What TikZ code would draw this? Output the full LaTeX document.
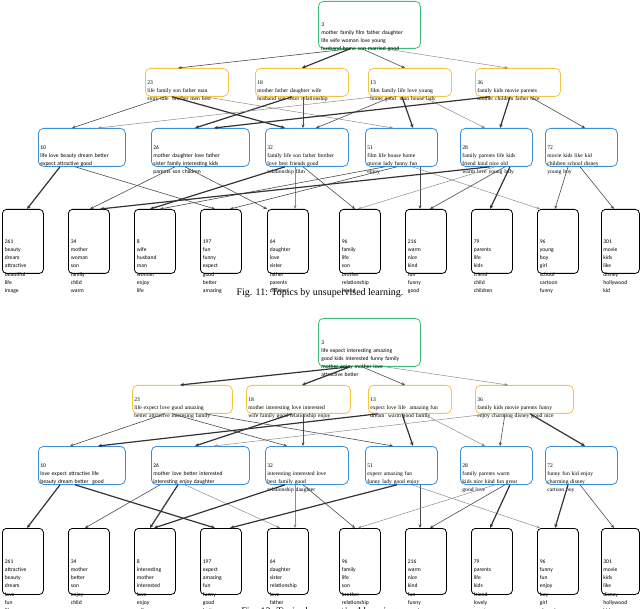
\documentclass[tikz,border=0pt]{standalone}
\usepackage{fontspec}
\setmainfont{Liberation Serif}
\newfontfamily\calfnt{Carlito}
\usetikzlibrary{calc,arrows.meta}
\definecolor{rootc}{HTML}{3DBE7A}
\definecolor{midc}{HTML}{F4C542}
\definecolor{lowc}{HTML}{3A8FD8}
\tikzset{
 bx/.style={draw,rounded corners=5pt,line width=0.8pt,anchor=north west,align=left,inner sep=2pt,text depth=0pt},
 rt/.style={bx,draw=rootc,font=\calfnt\fontsize{5.6}{8}\selectfont},
 md/.style={bx,draw=midc,font=\fontsize{5.6}{8}\selectfont},
 lw/.style={bx,draw=lowc,font=\calfnt\fontsize{5.6}{8}\selectfont},
 lws/.style={bx,draw=lowc,font=\fontsize{5.6}{8}\selectfont},
 lf/.style={bx,draw=black,rounded corners=4pt,font=\calfnt\fontsize{5.6}{8.2}\selectfont,minimum width=41pt,text width=36pt},
 lt/.style={-{Stealth[length=3.5pt,width=3pt]},draw=black!45,line width=0.5pt},
 me/.style={-{Stealth[length=3.5pt,width=3pt]},draw=black!70,line width=0.6pt},
 tk/.style={-{Stealth[length=4pt,width=3.5pt]},draw=black!80,line width=1.2pt},
 captxt/.style={font=\fontsize{10}{12}\selectfont}
}
\newcommand\E[5]{\draw[#1] ($(#2.south west)+(#3,0)$) -- ($(#4.north west)+(#5,0)$);}
\begin{document}
\begin{tikzpicture}[x=1pt,y=-1pt]
\useasboundingbox (0,0) rectangle (640,609);
% ---------- Figure 11 ----------
\node[rt,minimum width=102pt,minimum height=47pt,text width=96pt] (aR) at (318,1) {3\\mother family film father daughter\\life wife woman love young\\husband home son married good};
\node[md,minimum width=83pt,minimum height=28pt,text width=79pt] (a23) at (145,68) {23\\life family son father man\\story tale\ \ brother men best};
\node[md,minimum width=93pt,minimum height=28pt,text width=89pt] (a18) at (255,68) {18\\mother father daughter wife\\husband son sister relationship};
\node[md,minimum width=83pt,minimum height=28pt,text width=79pt] (a13) at (368,68) {13\\film family life love young\\home good\ \ man house lady};
\node[md,minimum width=85pt,minimum height=28pt,text width=81pt] (a36) at (475,68) {36\\family kids movie parents\\mother children father nice};
\node[lw,minimum width=87pt,minimum height=38pt,text width=83pt] (a10) at (38,128) {10\\life love beauty dream better\\expect attractive good};
\node[lw,minimum width=98pt,minimum height=38pt,text width=94pt] (a26) at (151,128) {26\\mother daughter love father\\sister family interesting kids\\parents son children};
\node[lws,minimum width=81pt,minimum height=38pt,text width=79pt] (a32) at (265,128) {32\\family life son father brother\\love best friends good\\relationship film};
\node[lws,minimum width=72pt,minimum height=38pt,text width=68pt] (a51) at (365,128) {51\\film life house home\\movie lady funny fun\\enjoy};
\node[lws,minimum width=72pt,minimum height=38pt,text width=68pt] (a28) at (460,128) {28\\family parents life kids\\friend kind nice old\\warm love young lady};
\node[lws,minimum width=72pt,minimum height=38pt,text width=68pt] (a72) at (545,128) {72\\movie kids like kid\\children school disney\\young boy};
\node[lf,minimum height=64pt] (b261) at (2,209) {261\\beauty\\dream\\attractive\\beautiful\\life\\image};
\node[lf,minimum height=64pt] (b34) at (68,209) {34\\mother\\woman\\son\\family\\child\\warm};
\node[lf,minimum height=64pt] (b8) at (134,209) {8\\wife\\husband\\man\\woman\\enjoy\\life};
\node[lf,minimum height=64pt] (b197) at (200,209) {197\\fun\\funny\\expect\\good\\better\\amazing};
\node[lf,minimum height=64pt] (b64) at (267,209) {64\\daughter\\love\\sister\\father\\parents\\children};
\node[lf,minimum height=64pt] (b96) at (339,209) {96\\family\\life\\son\\brother\\relationship\\friend};
\node[lf,minimum height=64pt] (b216) at (405,209) {216\\warm\\nice\\kind\\fun\\funny\\good};
\node[lf,minimum height=64pt] (b79) at (471,209) {79\\parents\\life\\kids\\friend\\child\\children};
\node[lf,minimum height=64pt] (b96b) at (537,209) {96\\young\\boy\\girl\\school\\cartoon\\funny};
\node[lf,minimum height=64pt,minimum width=38pt,text width=34pt] (b301) at (601,209) {301\\movie\\kids\\like\\disney\\hollywood\\kid};
\node[captxt] (c1) at (320,293) {Fig. 11: Topics by unsupervised learning.};
\E{me}{aR}{32}{a23}{33}
\E{tk}{aR}{32}{a18}{47}
\E{me}{aR}{44}{a13}{37}
\E{lt}{aR}{67}{a36}{33}
\E{me}{a23}{20}{a10}{34}
\E{tk}{a23}{27}{a32}{20}
\E{lt}{a23}{60}{a51}{28}
\E{tk}{a18}{37}{a26}{44}
\E{me}{a18}{48}{a32}{38}
\E{lt}{a13}{7}{a10}{60}
\E{me}{a13}{24}{a32}{51}
\E{tk}{a13}{34}{a51}{48}
\E{lt}{a13}{55}{a28}{25}
\E{tk}{a36}{15}{a26}{63}
\E{tk}{a36}{35}{a28}{40}
\E{me}{a36}{55}{a72}{40}
\E{tk}{a10}{22}{b261}{25}
\E{me}{a10}{37}{b197}{15}
\E{me}{a26}{24}{b34}{22}
\E{me}{a26}{34}{b64}{0}
\E{tk}{a32}{20}{b8}{16}
\E{lt}{a32}{30}{b64}{28}
\E{me}{a32}{38}{b96}{16}
\E{me}{a51}{20}{b8}{26}
\E{me}{a51}{32}{b197}{30}
\E{me}{a51}{55}{b216}{15}
\E{lt}{a51}{47}{b96b}{3}
\E{tk}{a28}{30}{b34}{32}
\E{lt}{a28}{35}{b96}{19}
\E{me}{a28}{45}{b216}{25}
\E{tk}{a28}{50}{b79}{19}
\E{me}{a72}{23}{b96b}{18}
\E{me}{a72}{35}{b301}{13}
% ---------- Figure 12 ----------
\node[rt,minimum width=102pt,minimum height=48pt,text width=96pt] (cR) at (318,318) {3\\life expect interesting amazing\\good kids interested funny family\\mother enjoy mother love\\attractive better};
\node[md,minimum width=100pt,minimum height=28pt,text width=96pt] (c23) at (132,385) {23\\life expect love good amazing\\better attractive interesing family};
\node[md,minimum width=104pt,minimum height=28pt,text width=100pt] (c18) at (246,385) {18\\mother interesting love interested\\wife family good relationship enjoy};
\node[md,minimum width=83pt,minimum height=28pt,text width=79pt] (c13) at (368,385) {13\\expect love life\ \ amazing fun\\dream\ \ warm good family};
\node[md,minimum width=98pt,minimum height=28pt,text width=94pt] (c36) at (475,385) {36\\family kids movie parents funny\\enjoy charming disney good nice};
\node[lw,minimum width=87pt,minimum height=38pt,text width=83pt] (c10) at (38,446) {10\\love expect attractive life\\beauty dream better\ \ good};
\node[lw,minimum width=98pt,minimum height=38pt,text width=94pt] (c26) at (151,446) {26\\mother love better interested\\interesting enjoy daughter};
\node[lws,minimum width=81pt,minimum height=38pt,text width=79pt] (c32) at (265,446) {32\\interesting interested love\\best family good\\relationship daughter};
\node[lws,minimum width=72pt,minimum height=38pt,text width=68pt] (c51) at (365,446) {51\\expect amazing fun\\funny lady good enjoy};
\node[lws,minimum width=72pt,minimum height=38pt,text width=68pt] (c28) at (460,446) {28\\family parents warm\\kids nice kind fun great\\good love};
\node[lws,minimum width=72pt,minimum height=38pt,text width=68pt] (c72) at (545,446) {72\\funny fun kid enjoy\\charming disney\\cartoon boy};
\node[lf,minimum height=66pt] (d261) at (2,528) {261\\attractive\\beauty\\dream\\love\\fun\\life};
\node[lf,minimum height=66pt] (d34) at (68,528) {34\\mother\\better\\son\\enjoy\\child\\warm};
\node[lf,minimum height=66pt] (d8) at (134,528) {8\\interesting\\mother\\interested\\love\\enjoy\\wife};
\node[lf,minimum height=66pt] (d197) at (200,528) {197\\expect\\amazing\\fun\\funny\\good\\better};
\node[lf,minimum height=66pt] (d64) at (267,528) {64\\daughter\\sister\\relationship\\love\\father\\parents};
\node[lf,minimum height=66pt] (d96) at (339,528) {96\\family\\life\\son\\brother\\relationship\\interesting};
\node[lf,minimum height=66pt] (d216) at (405,528) {216\\warm\\nice\\kind\\fun\\funny\\good};
\node[lf,minimum height=66pt] (d79) at (471,528) {79\\parents\\life\\kids\\friend\\lovely\\great};
\node[lf,minimum height=66pt] (d96b) at (537,528) {96\\funny\\fun\\enjoy\\boy\\girl\\charming\\cartoon};
\node[lf,minimum height=66pt,minimum width=38pt,text width=34pt] (d301) at (601,528) {301\\movie\\kids\\like\\disney\\hollywood\\kid};
\node[captxt] (c2) at (320,612) {Fig. 12: Topics by supervised learning.};
\E{tk}{cR}{32}{c23}{48}
\E{tk}{cR}{32}{c18}{56}
\E{me}{cR}{44}{c13}{37}
\E{lt}{cR}{67}{c36}{33}
\E{me}{c23}{33}{c10}{32}
\E{me}{c23}{40}{c32}{22}
\E{me}{c23}{73}{c51}{28}
\E{tk}{c18}{46}{c26}{44}
\E{me}{c18}{57}{c32}{38}
\E{tk}{c13}{10}{c10}{60}
\E{tk}{c13}{34}{c51}{48}
\E{lt}{c13}{55}{c28}{25}
\E{lt}{c36}{15}{c26}{63}
\E{me}{c36}{30}{c28}{40}
\E{tk}{c36}{55}{c72}{40}
\E{tk}{c10}{22}{d261}{25}
\E{tk}{c10}{37}{d197}{15}
\E{me}{c26}{9}{d34}{17}
\E{tk}{c26}{27}{d8}{16}
\E{lt}{c26}{34}{d64}{13}
\E{tk}{c32}{20}{d8}{20}
\E{lt}{c32}{30}{d64}{28}
\E{me}{c32}{38}{d96}{16}
\E{tk}{c51}{32}{d197}{30}
\E{me}{c51}{55}{d216}{15}
\E{lt}{c51}{47}{d96b}{3}
\E{lt}{c28}{35}{d96}{19}
\E{me}{c28}{45}{d216}{25}
\E{tk}{c28}{50}{d79}{19}
\E{tk}{c72}{23}{d96b}{18}
\E{me}{c72}{35}{d301}{13}
\end{tikzpicture}
\end{document}
